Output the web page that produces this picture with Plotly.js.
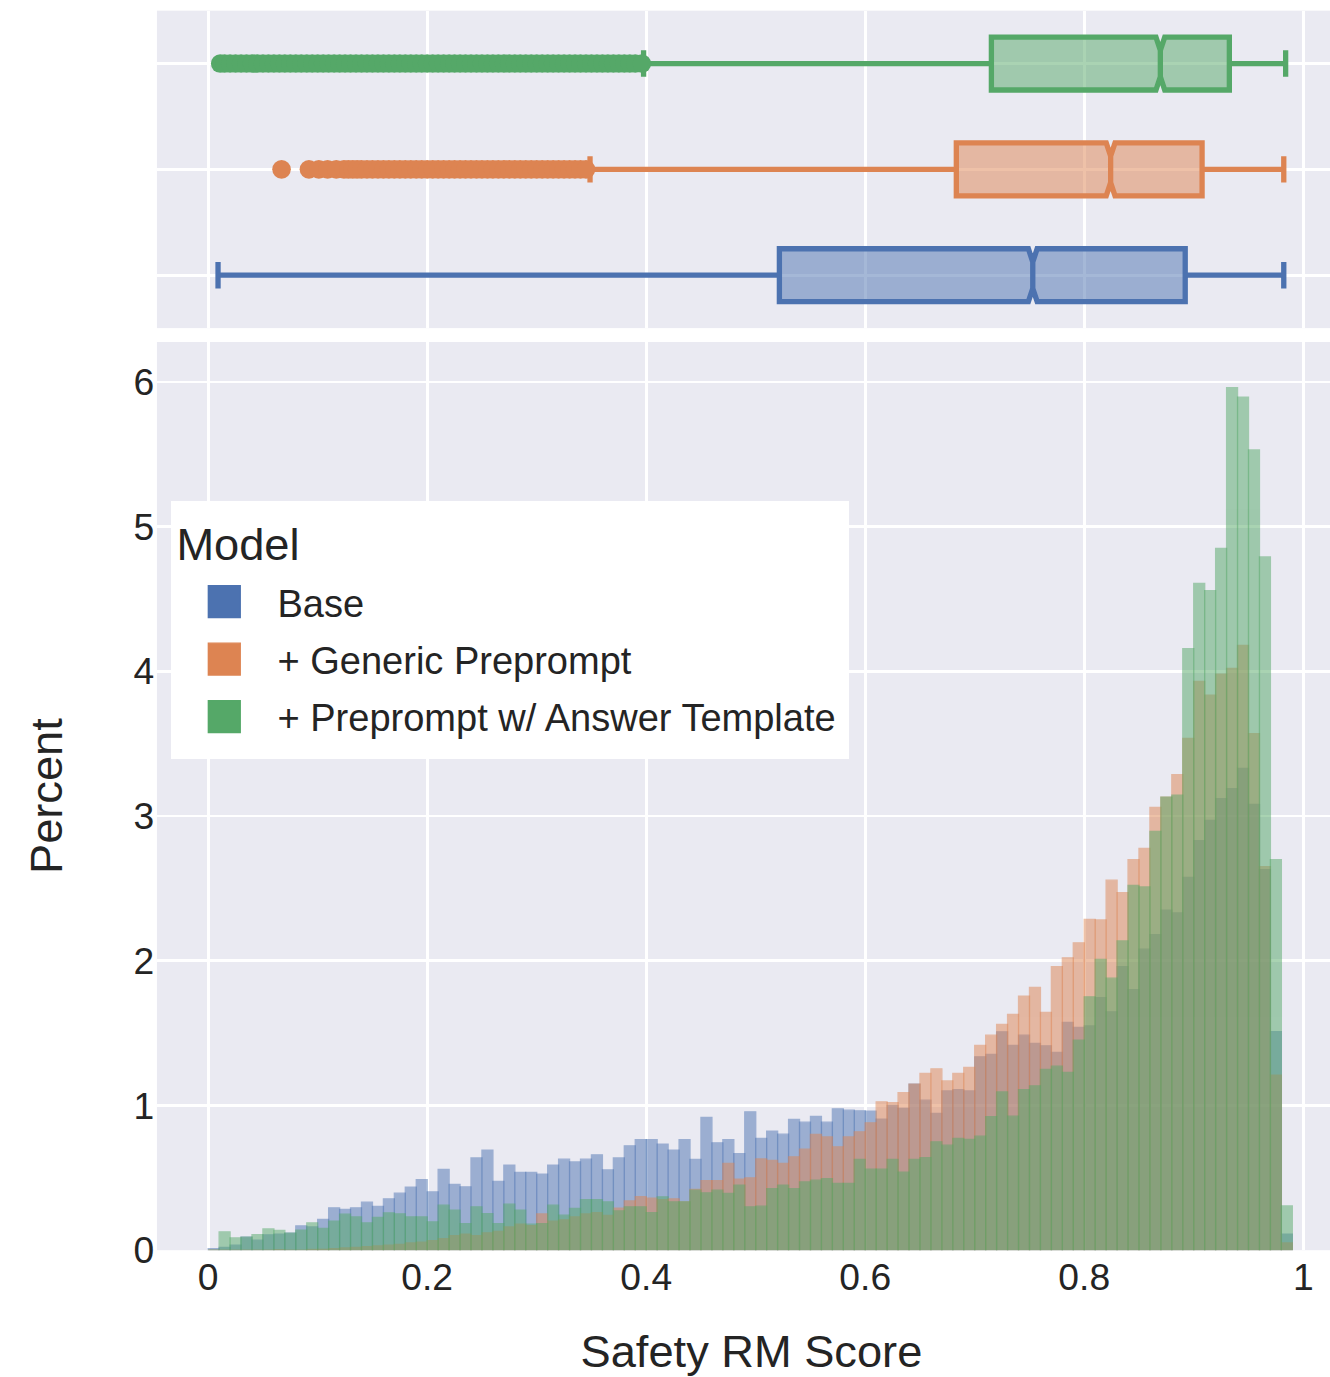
<!DOCTYPE html>
<html>
<head>
<meta charset="utf-8">
<script src="https://cdn.plot.ly/plotly-3.0.1.min.js"></script>
<style>
html{margin:0;padding:0;width:100%;height:100%;overflow:hidden;background:#ffffff;}
body{margin:0;padding:0;width:1330px;height:1377px;background:#ffffff;}
#chart{width:506px;height:518px;transform:scale(2.66);transform-origin:0 0;}
</style>
</head>
<body>
<div id="chart"></div>
<script>
// ---- data (percent of responses per 0.01-wide score bin, bins start at 0) ----
const binStart = 0.005;   // centre of first bin
const binSize = 0.01;
const modelNames = ['Base', '+ Generic Preprompt', '+ Preprompt w/ Answer Template'];
const modelColors = ['rgb(76,114,176)', 'rgb(221,132,82)', 'rgb(85,168,104)'];

const basePercent = [
  0.01, 0.02, 0.035, 0.09, 0.07, 0.106, 0.11, 0.118, 0.168, 0.16,
  0.212, 0.293, 0.281, 0.293, 0.332, 0.302, 0.355, 0.394, 0.435, 0.488,
  0.403, 0.558, 0.454, 0.438, 0.638, 0.691, 0.475, 0.588, 0.537, 0.537,
  0.525, 0.588, 0.629, 0.61, 0.629, 0.659, 0.555, 0.638, 0.721, 0.763,
  0.763, 0.733, 0.691, 0.763, 0.627, 0.917, 0.742, 0.763, 0.668, 0.956,
  0.772, 0.823, 0.802, 0.903, 0.885, 0.924, 0.885, 0.977, 0.968, 0.963,
  0.96, 0.906, 1.0, 0.98, 1.147, 1.037, 0.945, 1.10, 1.11, 1.10,
  1.336, 1.353, 1.509, 1.415, 1.486, 1.429, 1.412, 1.366, 1.574, 1.539,
  1.55, 1.745, 1.647, 1.96, 1.80, 2.08, 2.18, 2.35, 2.33, 2.576,
  2.83, 2.97, 3.12, 3.19, 3.33, 3.08, 2.63, 1.51, 0.11
];
const genericPercent = [
  0, 0, 0, 0, 0, 0, 0.003, 0, 0, 0.005,
  0.006, 0.01, 0.015, 0.02, 0.025, 0.03, 0.035, 0.04, 0.05, 0.055,
  0.065, 0.08, 0.1, 0.11, 0.1, 0.12, 0.13, 0.16, 0.18, 0.17,
  0.25, 0.2, 0.21, 0.23, 0.25, 0.26, 0.24, 0.29, 0.34, 0.37,
  0.36, 0.35, 0.355, 0.334, 0.42, 0.48, 0.48, 0.6, 0.49, 0.5,
  0.63, 0.62, 0.6, 0.645, 0.698, 0.8, 0.783, 0.714, 0.783, 0.818,
  0.88, 1.025, 1.02, 1.088, 1.147, 1.221, 1.253, 1.17, 1.221, 1.263,
  1.415, 1.486, 1.56, 1.629, 1.756, 1.816, 1.643, 1.959, 2.02, 2.124,
  2.286, 2.282, 2.557, 2.47, 2.698, 2.776, 3.06, 3.13, 3.286, 3.537,
  3.93, 3.835, 3.98, 4.02, 4.18, 3.57, 2.65, 1.21, 0.05
];
const templatePercent = [
  0, 0.127, 0.085, 0.09, 0.108, 0.147, 0.136, 0.118, 0.138, 0.189,
  0.15, 0.2, 0.249, 0.23, 0.189, 0.226, 0.258, 0.251, 0.23, 0.23,
  0.196, 0.311, 0.276, 0.184, 0.30, 0.253, 0.184, 0.318, 0.276, 0.18,
  0.184, 0.311, 0.242, 0.288, 0.35, 0.35, 0.334, 0.272, 0.30, 0.30,
  0.26, 0.369, 0.334, 0.334, 0.415, 0.396, 0.415, 0.392, 0.449, 0.30,
  0.304, 0.426, 0.449, 0.426, 0.472, 0.484, 0.495, 0.461, 0.461, 0.627,
  0.56, 0.56, 0.627, 0.54, 0.627, 0.64, 0.749, 0.726, 0.772, 0.765,
  0.788, 0.922, 1.094, 0.926, 1.11, 1.136, 1.249, 1.272, 1.228, 1.452,
  1.751, 2.01, 1.88, 2.137, 2.52, 2.51, 2.894, 3.13, 3.145, 4.157,
  4.608, 4.557, 4.85, 5.96, 5.894, 5.53, 4.79, 2.698, 0.306
];

// box-plot summary statistics (Safety RM Score)
const boxQ1 = [0.5216, 0.6832, 0.7152];
const boxMedian = [0.7530, 0.8241, 0.8695];
const boxQ3 = [0.8922, 0.9076, 0.9325];
const boxLowerFence = [0.009, 0.3487, 0.3976];
const boxUpperFence = [0.9822, 0.9822, 0.9839];
const boxNotch = [0.004, 0.004, 0.004];

// outlier scores visible in the marginal box plot
const genericOutliers = [0.067, 0.092, 0.101, 0.109, 0.117, 0.124, 0.128, 0.132, 0.136,
  0.14, 0.145, 0.15, 0.155, 0.16, 0.165, 0.17, 0.175, 0.18, 0.185, 0.19, 0.195,
  0.2, 0.205, 0.21, 0.215, 0.22, 0.225, 0.23, 0.235, 0.24, 0.245, 0.25, 0.255,
  0.26, 0.265, 0.27, 0.275, 0.28, 0.285, 0.29, 0.295, 0.3, 0.305, 0.31, 0.315,
  0.32, 0.325, 0.33, 0.335, 0.34, 0.345];
const templateOutliers = [0.011, 0.015, 0.02, 0.025, 0.03, 0.035, 0.04, 0.045, 0.05,
  0.055, 0.06, 0.065, 0.07, 0.075, 0.08, 0.085, 0.09, 0.095, 0.1, 0.105, 0.11,
  0.115, 0.12, 0.125, 0.13, 0.135, 0.14, 0.145, 0.15, 0.155, 0.16, 0.165, 0.17,
  0.175, 0.18, 0.185, 0.19, 0.195, 0.2, 0.205, 0.21, 0.215, 0.22, 0.225, 0.23,
  0.235, 0.24, 0.245, 0.25, 0.255, 0.26, 0.265, 0.27, 0.275, 0.28, 0.285, 0.29,
  0.295, 0.3, 0.305, 0.31, 0.315, 0.32, 0.325, 0.33, 0.335, 0.34, 0.345, 0.35,
  0.355, 0.36, 0.365, 0.37, 0.375, 0.38, 0.385, 0.39, 0.396];

// ---- build traces ----
const histSeries = [basePercent, genericPercent, templatePercent];
const traces = [];
histSeries.forEach((vals, i) => {
  traces.push({
    type: 'bar', name: modelNames[i],
    x0: binStart, dx: binSize, y: vals, width: binSize,
    marker: {color: modelColors[i], opacity: 0.5, line: {color: modelColors[i], width: 0.5}},
    xaxis: 'x', yaxis: 'y', hoverinfo: 'skip'
  });
});
modelNames.forEach((name, i) => {
  traces.push({
    type: 'box', orientation: 'h', name: name, showlegend: false,
    y: [i], q1: [boxQ1[i]], median: [boxMedian[i]], q3: [boxQ3[i]],
    lowerfence: [boxLowerFence[i]], upperfence: [boxUpperFence[i]],
    notched: true, notchspan: [boxNotch[i]], width: 0.5, whiskerwidth: 0.5,
    boxpoints: false,
    line: {color: modelColors[i], width: 2},
    fillcolor: modelColors[i].replace('rgb', 'rgba').replace(')', ',0.5)'),
    xaxis: 'x2', yaxis: 'y2', hoverinfo: 'skip'
  });
});
const outlierSets = [[], genericOutliers, templateOutliers];
outlierSets.forEach((pts, i) => {
  if (!pts.length) return;
  traces.push({
    type: 'scatter', mode: 'markers', showlegend: false,
    x: pts, y: pts.map(() => i),
    marker: {color: modelColors[i], size: 7},
    xaxis: 'x2', yaxis: 'y2', hoverinfo: 'skip'
  });
});

const xRange = [-0.0468, 1.039];
const layout = {
  width: 506, height: 518,
  margin: {l: 59, r: 0, t: 4, b: 48, pad: 0},
  paper_bgcolor: '#ffffff', plot_bgcolor: 'rgb(234,234,242)',
  font: {family: '"Liberation Sans", Arial, sans-serif', size: 14, color: 'rgb(36,36,36)'},
  barmode: 'overlay', bargap: 0,
  showlegend: true,
  legend: {
    x: 0.0119, y: 0.6045, xanchor: 'left', yanchor: 'top',
    bgcolor: '#ffffff', borderwidth: 0, tracegroupgap: 0,
    title: {text: 'Model', font: {size: 17}},
    font: {size: 14.3}
  },
  xaxis: {
    domain: [0, 1], anchor: 'y', range: xRange, tick0: 0, dtick: 0.2,
    showgrid: true, gridcolor: '#ffffff', gridwidth: 1, zeroline: false,
    showline: false, ticks: '',
    title: {text: 'Safety RM Score', font: {size: 17}}
  },
  yaxis: {
    domain: [0, 0.7327], anchor: 'x', range: [0, 6.276], tick0: 0, dtick: 1,
    showgrid: true, gridcolor: '#ffffff', gridwidth: 1, zeroline: false,
    showline: false, ticks: '',
    title: {text: 'Percent', font: {size: 17}, standoff: 21.5}
  },
  xaxis2: {
    domain: [0, 1], anchor: 'y2', matches: 'x', range: xRange,
    showticklabels: false, showgrid: true, gridcolor: '#ffffff', gridwidth: 1,
    zeroline: false, ticks: ''
  },
  yaxis2: {
    domain: [0.7439, 1], anchor: 'x2', range: [-0.5, 2.5], tickvals: [0, 1, 2],
    showticklabels: false, showgrid: true, gridcolor: '#ffffff', gridwidth: 1,
    zeroline: false, ticks: ''
  }
};

Plotly.newPlot('chart', traces, layout, {staticPlot: true, displayModeBar: false, responsive: false});
</script>
</body>
</html>
